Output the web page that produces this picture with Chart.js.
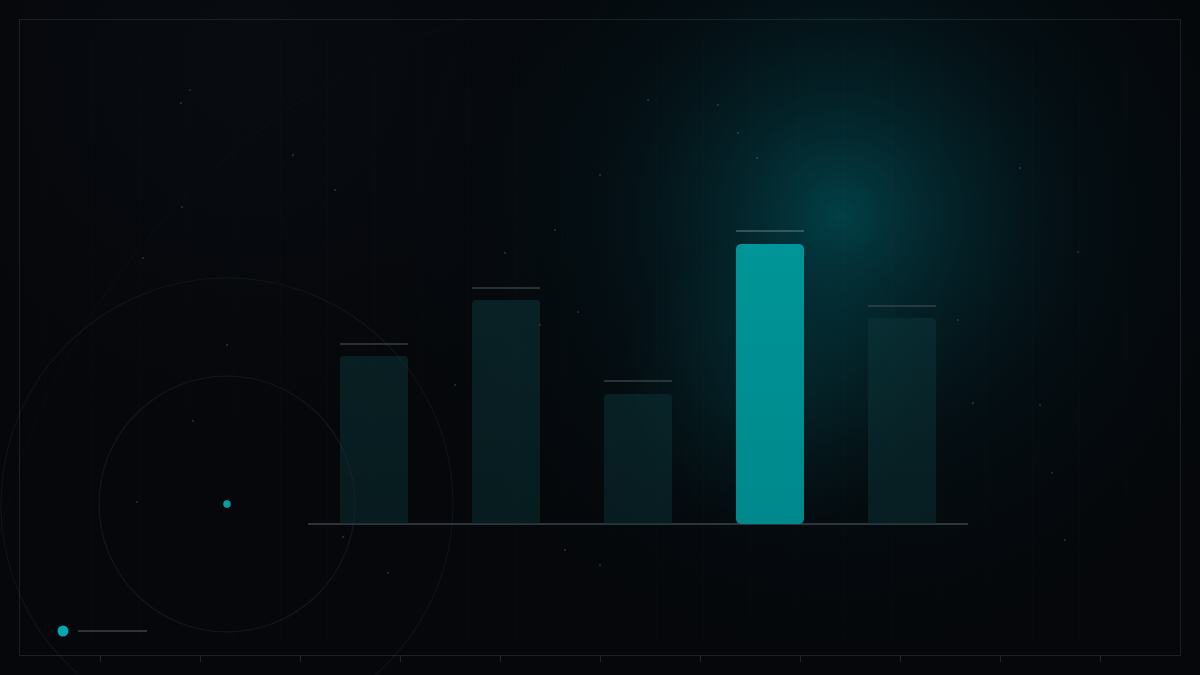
<!DOCTYPE html>
<html>
<head>
<meta charset="utf-8">
<script src="https://cdn.jsdelivr.net/npm/chart.js@4/dist/chart.umd.min.js"></script>
<style>
  html, body { margin: 0; padding: 0; background: #05070b; }
  #wrap { width: 1200px; height: 675px; position: relative; }
</style>
</head>
<body>
<div id="wrap"><canvas id="barChart" width="1200" height="675"></canvas></div>
<script>
// data (1 unit = 1px of bar height)
const categories = ['A', 'B', 'C', 'D', 'E'];
const barValues = [168, 224, 130, 280, 206];
const markerValues = [180, 236, 143, 293, 218];
const highlightIndex = 3;

(function () {
  const canvas = document.getElementById('barChart');
  const ctx = canvas.getContext('2d');

  // backdrop: glow, frame, rings, ticks, legend stub
  const backdrop = {
    id: 'backdrop',
    beforeDraw(chart) {
      const c = chart.ctx;
      const { width, height } = chart;
      c.save();
      c.fillStyle = '#05070a';
      c.fillRect(0, 0, width, height);

      let g = c.createRadialGradient(250, 60, 0, 250, 60, 380);
      g.addColorStop(0, 'rgba(18, 24, 36, 0.25)');
      g.addColorStop(1, 'rgba(18, 24, 36, 0)');
      c.fillStyle = g;
      c.fillRect(0, 0, width, height);

      g = c.createRadialGradient(840, 215, 0, 840, 215, 480);
      g.addColorStop(0, 'rgba(0, 100, 110, 0.6)');
      g.addColorStop(0.2, 'rgba(0, 80, 90, 0.42)');
      g.addColorStop(0.5, 'rgba(0, 45, 55, 0.2)');
      g.addColorStop(0.8, 'rgba(0, 25, 35, 0.06)');
      g.addColorStop(1, 'rgba(0, 20, 30, 0)');
      c.fillStyle = g;
      c.fillRect(0, 0, width, height);

      // faint vertical rules
      c.strokeStyle = 'rgba(255, 255, 255, 0.01)';
      c.lineWidth = 1;
      for (let x = 45; x < width; x += 47) {
        c.beginPath();
        c.moveTo(x + 0.5, 40);
        c.lineTo(x + 0.5, 640);
        c.stroke();
      }

      // frame
      c.strokeStyle = 'rgba(120, 130, 140, 0.2)';
      c.lineWidth = 1;
      c.strokeRect(19.5, 19.5, 1161, 636);

      // ticks under frame
      c.strokeStyle = 'rgba(120, 130, 140, 0.26)';
      for (let x = 100; x <= 1100; x += 100) {
        c.beginPath();
        c.moveTo(x + 0.5, 656);
        c.lineTo(x + 0.5, 662);
        c.stroke();
      }

      // rings
      c.strokeStyle = 'rgba(90, 120, 125, 0.15)';
      c.lineWidth = 1.2;
      c.beginPath();
      c.arc(227, 504, 128, 0, Math.PI * 2);
      c.stroke();
      c.strokeStyle = 'rgba(90, 120, 125, 0.11)';
      c.beginPath();
      c.arc(227, 504, 226, 0, Math.PI * 2);
      c.stroke();
      c.strokeStyle = 'rgba(90, 110, 120, 0.05)';
      c.beginPath();
      c.arc(700, 700, 720, Math.PI * 1.05, Math.PI * 1.4);
      c.stroke();

      // specks
      const specks = [[190, 90], [181, 103], [293, 155], [335, 190], [182, 207], [143, 258], [227, 345],
        [648, 100], [718, 105], [738, 133], [757, 158], [600, 175], [555, 230], [505, 253], [540, 325],
        [578, 312], [1020, 168], [1078, 252], [958, 320], [973, 403], [1040, 405], [1052, 473],
        [1065, 540], [565, 550], [600, 565], [388, 573], [343, 537], [137, 502], [193, 421], [455, 385]];
      c.fillStyle = 'rgba(120, 150, 160, 0.3)';
      specks.forEach(([x, y]) => {
        c.beginPath();
        c.arc(x, y, 1, 0, Math.PI * 2);
        c.fill();
      });

      // ring centre dot
      c.fillStyle = '#0a9ea2';
      c.beginPath();
      c.arc(227, 504, 3.8, 0, Math.PI * 2);
      c.fill();

      // legend stub
      c.fillStyle = '#00a8b0';
      c.beginPath();
      c.arc(63, 631, 5.5, 0, Math.PI * 2);
      c.fill();
      c.strokeStyle = 'rgba(110, 115, 120, 0.55)';
      c.lineWidth = 1.5;
      c.beginPath();
      c.moveTo(78, 631);
      c.lineTo(147, 631);
      c.stroke();

      c.restore();
    },
    beforeDatasetsDraw(chart) {
      // baseline along the bottom of the plot
      const { left, right, bottom } = chart.chartArea;
      const c = chart.ctx;
      c.save();
      c.strokeStyle = 'rgba(50, 58, 66, 0.9)';
      c.lineWidth = 2;
      c.beginPath();
      c.moveTo(left, bottom);
      c.lineTo(right, bottom);
      c.stroke();

      // soft glow behind the highlighted bar
      const bar = chart.getDatasetMeta(0).data[highlightIndex];
      if (bar) {
        const gx = bar.x, gy = (bar.y + bar.base) / 2;
        const g = c.createRadialGradient(gx, gy, 0, gx, gy, 150);
        g.addColorStop(0, 'rgba(0, 150, 155, 0.12)');
        g.addColorStop(1, 'rgba(0, 150, 155, 0)');
        c.fillStyle = g;
        c.fillRect(gx - 150, gy - 170, 300, 340);
      }
      c.restore();
    },
  };

  const barFill = (context) => {
    const area = context.chart.chartArea;
    if (!area) return '#082024';
    const g = context.chart.ctx.createLinearGradient(0, area.top, 0, area.bottom);
    if (context.dataIndex === highlightIndex) {
      g.addColorStop(0, '#009a9d');
      g.addColorStop(1, '#00898c');
    } else {
      g.addColorStop(0, 'rgba(14, 58, 62, 0.55)');
      g.addColorStop(1, 'rgba(10, 48, 52, 0.5)');
    }
    return g;
  };

  new Chart(ctx, {
    data: {
      labels: categories,
      datasets: [
        {
          type: 'bar',
          data: barValues,
          backgroundColor: barFill,
          borderRadius: (context) => (context.dataIndex === highlightIndex ? 5 : 4),
          borderSkipped: (context) => (context.dataIndex === highlightIndex ? false : 'bottom'),
          categoryPercentage: 1,
          barPercentage: 68 / 132,
          order: 2,
        },
        {
          type: 'line',
          data: markerValues,
          showLine: false,
          pointStyle: 'line',
          pointRadius: 34,
          pointHoverRadius: 34,
          pointBorderWidth: 1.5,
          pointBorderColor: categories.map((_, i) =>
            i === highlightIndex ? 'rgba(70, 110, 112, 0.9)' : 'rgba(60, 70, 76, 0.9)'),
          order: 1,
        },
      ],
    },
    options: {
      responsive: false,
      animation: false,
      devicePixelRatio: 1,
      layout: { padding: { left: 308, right: 232, top: 124, bottom: 151 } },
      plugins: {
        legend: { display: false },
        tooltip: { enabled: false },
      },
      scales: {
        x: { display: false, offset: true },
        y: { display: false, min: 0, max: 400 },
      },
    },
    plugins: [backdrop],
  });
})();
</script>
</body>
</html>
